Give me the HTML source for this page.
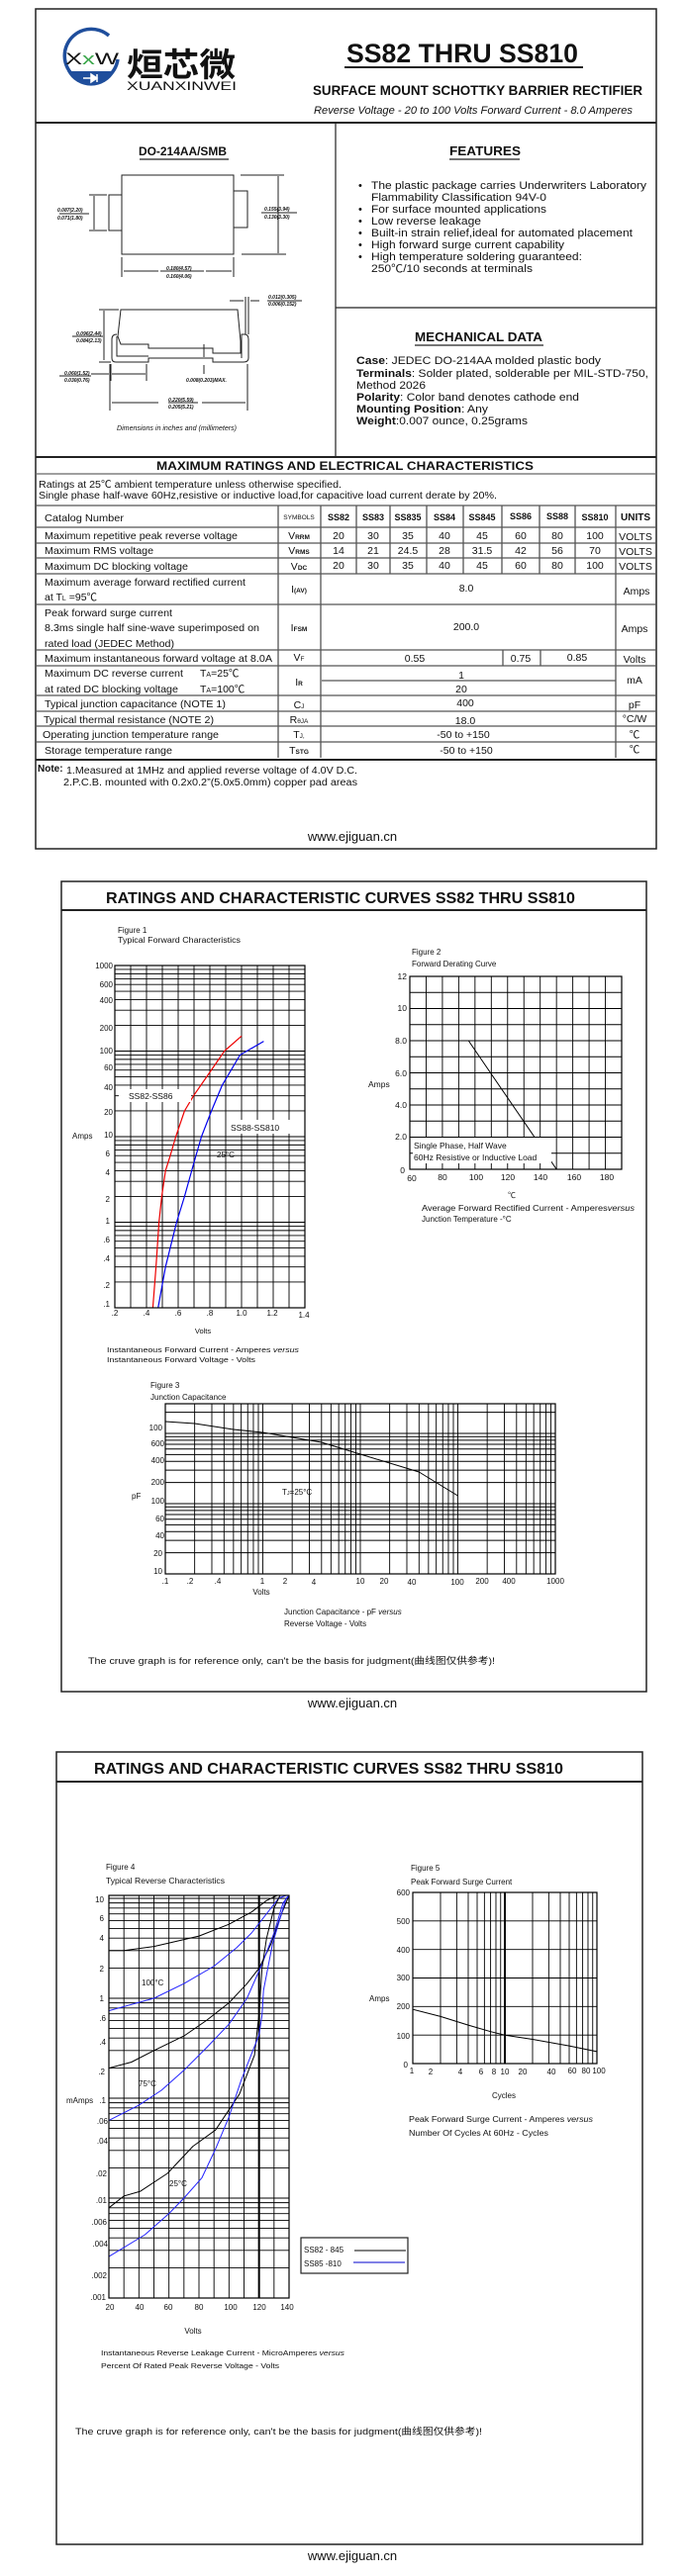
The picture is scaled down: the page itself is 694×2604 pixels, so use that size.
<!DOCTYPE html>
<html><head><meta charset="utf-8">
<style>
html,body{margin:0;padding:0;background:#fff;}
svg{display:block;}
text{font-family:"Liberation Sans","Noto Sans CJK SC",sans-serif;fill:#111;}
.b{font-weight:bold;}
.i{font-style:italic;}
</style></head><body>
<svg id="s" xmlns="http://www.w3.org/2000/svg" width="694" height="2604" viewBox="0 0 694 2604">
<rect width="694" height="2604" fill="#fff"/>
<g id="grids" stroke="#000" stroke-width="0.9"></g>
<g id="curves" fill="none"></g>

<!-- ================= PAGE 1 ================= -->
<g fill="none" stroke="#222">
<rect x="36" y="9" width="627" height="849" stroke-width="1.5"/>
<line x1="36" y1="124" x2="663" y2="124" stroke-width="2"/>
<line x1="339" y1="124" x2="339" y2="462" stroke-width="1.2"/>
<line x1="339" y1="311" x2="663" y2="311" stroke-width="1.2"/>
<line x1="36" y1="462" x2="663" y2="462" stroke-width="2"/>
<line x1="36" y1="479" x2="663" y2="479" stroke="#666" stroke-width="1.2"/>
<line x1="36" y1="768" x2="663" y2="768" stroke-width="2"/>
<line x1="348" y1="68" x2="589" y2="68" stroke-width="2"/>
<line x1="141" y1="161" x2="231" y2="161" stroke-width="1.2"/>
<line x1="454" y1="161" x2="525" y2="161" stroke-width="1.2"/>
<line x1="419" y1="349" x2="549" y2="349" stroke-width="1.2"/>
</g>
<!-- table grid -->
<g stroke="#555" stroke-width="1.3">
<line x1="36" y1="511" x2="663" y2="511"/><line x1="36" y1="533" x2="663" y2="533"/>
<line x1="36" y1="549" x2="663" y2="549"/><line x1="36" y1="564" x2="663" y2="564"/>
<line x1="36" y1="580" x2="663" y2="580"/><line x1="36" y1="611" x2="663" y2="611"/>
<line x1="36" y1="657" x2="663" y2="657"/><line x1="36" y1="673" x2="663" y2="673"/>
<line x1="36" y1="703" x2="663" y2="703"/><line x1="36" y1="719" x2="663" y2="719"/>
<line x1="36" y1="734" x2="663" y2="734"/><line x1="36" y1="750" x2="663" y2="750"/>
<line x1="281" y1="511" x2="281" y2="766"/><line x1="324" y1="511" x2="324" y2="766"/>
<line x1="622" y1="511" x2="622" y2="766"/>
<line x1="360" y1="511" x2="360" y2="580"/><line x1="394" y1="511" x2="394" y2="580"/>
<line x1="431" y1="511" x2="431" y2="580"/><line x1="468" y1="511" x2="468" y2="580"/>
<line x1="507" y1="511" x2="507" y2="580"/><line x1="545" y1="511" x2="545" y2="580"/>
<line x1="581" y1="511" x2="581" y2="580"/>
<line x1="508" y1="657" x2="508" y2="673"/><line x1="546" y1="657" x2="546" y2="673"/>
<line x1="325" y1="688" x2="622" y2="688"/>
</g>

<!-- logo -->
<g>
<path d="M110,36 A27,27 0 1 0 119,60" fill="none" stroke="#1f4e9c" stroke-width="3.5"/>
<path d="M68,72 L116,72 A27,27 0 0 1 68,72 Z" fill="#1f4e9c"/>
<path d="M84,79 L98,79 M92,75 L92,83 L98,79 Z M98,75 L98,83" stroke="#fff" stroke-width="1.5" fill="#fff"/>
<text x="66" y="65" font-size="17" fill="#1f4e9c" textLength="54" lengthAdjust="spacingAndGlyphs">X<tspan fill="#3aa64a">x</tspan>W</text>
<text x="128" y="77" font-size="33" class="b" textLength="110" lengthAdjust="spacingAndGlyphs">烜芯微</text>
<text x="128" y="91" font-size="12" textLength="111" lengthAdjust="spacingAndGlyphs">XUANXINWEI</text>
</g>
<text x="350" y="63" font-size="27" class="b" textLength="234" lengthAdjust="spacingAndGlyphs">SS82 THRU SS810</text>
<text x="316" y="96" font-size="14" class="b" textLength="333" lengthAdjust="spacingAndGlyphs">SURFACE MOUNT SCHOTTKY BARRIER RECTIFIER</text>
<text x="317" y="115" font-size="11" class="i" textLength="322" lengthAdjust="spacingAndGlyphs">Reverse Voltage - 20 to 100 Volts    Forward Current -  8.0 Amperes</text>

<text x="140" y="157" font-size="12" class="b" textLength="89" lengthAdjust="spacingAndGlyphs">DO-214AA/SMB</text>
<text x="454" y="157" font-size="12.5" class="b" textLength="72" lengthAdjust="spacingAndGlyphs">FEATURES</text>
<text x="419" y="345" font-size="12.5" class="b" textLength="129" lengthAdjust="spacingAndGlyphs">MECHANICAL DATA</text>

<!-- package drawing -->
<g fill="none" stroke="#222" stroke-width="1">
<rect x="123" y="177" width="113" height="80"/>
<rect x="110" y="197" width="13" height="36"/>
<rect x="236" y="193" width="14" height="37"/>
<line x1="90" y1="197" x2="108" y2="197"/><line x1="90" y1="233" x2="108" y2="233"/>
<line x1="95" y1="198" x2="95" y2="232"/>
<line x1="243" y1="177" x2="287" y2="177"/><line x1="244" y1="257" x2="289" y2="257"/>
<line x1="281" y1="178" x2="281" y2="256"/>
<line x1="123" y1="260" x2="123" y2="280"/><line x1="236" y1="260" x2="236" y2="280"/>
<line x1="125" y1="274" x2="160" y2="274"/><line x1="208" y1="274" x2="234" y2="274"/>
<path d="M122,313 L240,313 L243,345 L243,357 L215,357 L215,352 L150,352 L150,348 L122,348 L119,340 Z"/>
<path d="M118,338 Q113,338 113,343 L113,362 Q113,366 117,366 L150,366 L150,362 L215,362 L215,366 L246,366 Q251,366 251,362 L251,343 Q251,338 247,338 L244,338 L244,362"/>
<path d="M118,340 L118,360 L150,360"/>
<line x1="248" y1="300" x2="248" y2="338"/><line x1="251" y1="300" x2="251" y2="338"/>
<line x1="232" y1="304" x2="246" y2="304"/><line x1="253" y1="304" x2="262" y2="304"/>
<line x1="100" y1="313" x2="120" y2="313"/><line x1="105" y1="314" x2="105" y2="364"/>
<line x1="100" y1="366" x2="112" y2="366"/>
<line x1="112" y1="368" x2="112" y2="385"/><line x1="148" y1="368" x2="148" y2="385"/>
<line x1="113" y1="378" x2="147" y2="378"/><line x1="92" y1="378" x2="110" y2="378"/>
<line x1="206" y1="348" x2="206" y2="361"/><line x1="206" y1="369" x2="206" y2="378"/>
<line x1="111" y1="368" x2="111" y2="415"/><line x1="250" y1="368" x2="250" y2="415"/>
<line x1="113" y1="407" x2="160" y2="407"/><line x1="204" y1="407" x2="248" y2="407"/>
<line x1="60" y1="216" x2="90" y2="216"/><line x1="264" y1="215" x2="300" y2="215"/>
<line x1="162" y1="274" x2="206" y2="274"/>
<line x1="73" y1="340" x2="104" y2="340"/><line x1="60" y1="380" x2="92" y2="380"/>
<line x1="170" y1="407" x2="200" y2="407"/><line x1="270" y1="304" x2="305" y2="304"/>
</g>
<g font-size="5" class="i b">
<text x="58" y="214">0.087(2.20)</text><text x="58" y="222">0.071(1.80)</text>
<text x="267" y="213">0.155(3.94)</text><text x="267" y="221">0.130(3.30)</text>
<text x="168" y="273">0.180(4.57)</text><text x="168" y="281">0.160(4.06)</text>
<text x="77" y="339">0.096(2.44)</text><text x="77" y="346">0.084(2.13)</text>
<text x="65" y="379">0.060(1.52)</text><text x="65" y="386">0.030(0.76)</text>
<text x="188" y="386">0.008(0.203)MAX.</text>
<text x="170" y="406">0.220(5.59)</text><text x="170" y="413">0.205(5.21)</text>
<text x="271" y="302">0.012(0.305)</text><text x="271" y="309">0.006(0.152)</text>
</g>
<text x="118" y="435" font-size="7" class="i" textLength="121" lengthAdjust="spacingAndGlyphs">Dimensions in inches and (millimeters)</text>

<!-- features -->
<g font-size="11">
<text x="362" y="191">•</text><text x="375" y="191" textLength="278" lengthAdjust="spacingAndGlyphs">The plastic package carries Underwriters Laboratory</text>
<text x="375" y="203" textLength="177" lengthAdjust="spacingAndGlyphs">Flammability Classification 94V-0</text>
<text x="362" y="215">•</text><text x="375" y="215" textLength="177" lengthAdjust="spacingAndGlyphs">For surface mounted applications</text>
<text x="362" y="227">•</text><text x="375" y="227" textLength="111" lengthAdjust="spacingAndGlyphs">Low reverse leakage</text>
<text x="362" y="239">•</text><text x="375" y="239" textLength="264" lengthAdjust="spacingAndGlyphs">Built-in strain relief,ideal for automated placement</text>
<text x="362" y="251">•</text><text x="375" y="251" textLength="195" lengthAdjust="spacingAndGlyphs">High forward surge current capability</text>
<text x="362" y="263">•</text><text x="375" y="263" textLength="213" lengthAdjust="spacingAndGlyphs">High temperature soldering guaranteed:</text>
<text x="375" y="275" textLength="163" lengthAdjust="spacingAndGlyphs">250℃/10 seconds at terminals</text>
</g>
<g font-size="11">
<text x="360" y="368" textLength="247" lengthAdjust="spacingAndGlyphs"><tspan class="b">Case</tspan>: JEDEC DO-214AA molded plastic body</text>
<text x="360" y="381" textLength="295" lengthAdjust="spacingAndGlyphs"><tspan class="b">Terminals</tspan>: Solder plated, solderable per MIL-STD-750,</text>
<text x="360" y="393" textLength="70" lengthAdjust="spacingAndGlyphs">Method 2026</text>
<text x="360" y="405" textLength="225" lengthAdjust="spacingAndGlyphs"><tspan class="b">Polarity</tspan>: Color band denotes cathode end</text>
<text x="360" y="417" textLength="133" lengthAdjust="spacingAndGlyphs"><tspan class="b">Mounting Position</tspan>: Any</text>
<text x="360" y="429" textLength="173" lengthAdjust="spacingAndGlyphs"><tspan class="b">Weight</tspan>:0.007 ounce, 0.25grams</text>
</g>

<!-- ratings table text -->
<text x="158" y="475" font-size="12" class="b" textLength="381" lengthAdjust="spacingAndGlyphs">MAXIMUM RATINGS AND ELECTRICAL CHARACTERISTICS</text>
<text x="39" y="493" font-size="10" textLength="306" lengthAdjust="spacingAndGlyphs">Ratings at 25℃ ambient temperature unless otherwise specified.</text>
<text x="39" y="504" font-size="10" textLength="463" lengthAdjust="spacingAndGlyphs">Single phase half-wave 60Hz,resistive or inductive load,for capacitive load current derate by 20%.</text>
<g font-size="10.5">
<text x="45" y="527" textLength="80" lengthAdjust="spacingAndGlyphs">Catalog Number</text>
<text x="45" y="545" textLength="195" lengthAdjust="spacingAndGlyphs">Maximum repetitive peak reverse voltage</text>
<text x="45" y="560" textLength="110" lengthAdjust="spacingAndGlyphs">Maximum RMS voltage</text>
<text x="45" y="576" textLength="145" lengthAdjust="spacingAndGlyphs">Maximum DC blocking voltage</text>
<text x="45" y="592" textLength="203" lengthAdjust="spacingAndGlyphs">Maximum average forward rectified current</text>
<text x="45" y="607">at T<tspan font-size="7">L</tspan> =95℃</text>
<text x="45" y="623" textLength="129" lengthAdjust="spacingAndGlyphs">Peak forward surge current</text>
<text x="45" y="638" textLength="217" lengthAdjust="spacingAndGlyphs">8.3ms single half sine-wave superimposed on</text>
<text x="45" y="654" textLength="131" lengthAdjust="spacingAndGlyphs">rated load (JEDEC Method)</text>
<text x="45" y="669" textLength="230" lengthAdjust="spacingAndGlyphs">Maximum instantaneous forward voltage at 8.0A</text>
<text x="45" y="684" textLength="140" lengthAdjust="spacingAndGlyphs">Maximum DC reverse current</text>
<text x="202" y="684">T<tspan font-size="7">A</tspan>=25℃</text>
<text x="45" y="700" textLength="135" lengthAdjust="spacingAndGlyphs">at rated DC blocking voltage</text>
<text x="202" y="700">T<tspan font-size="7">A</tspan>=100℃</text>
<text x="45" y="715" textLength="183" lengthAdjust="spacingAndGlyphs">Typical junction capacitance (NOTE 1)</text>
<text x="44" y="731" textLength="172" lengthAdjust="spacingAndGlyphs">Typical thermal resistance (NOTE 2)</text>
<text x="43" y="746" textLength="178" lengthAdjust="spacingAndGlyphs">Operating junction temperature range</text>
<text x="45" y="762" textLength="129" lengthAdjust="spacingAndGlyphs">Storage temperature range</text>
</g>
<g font-size="10.5" text-anchor="middle">
<text x="302" y="525" font-size="6.5">SYMBOLS</text>
<g class="b" font-size="9"><text x="342" y="526">SS82</text><text x="377" y="526">SS83</text><text x="412" y="526">SS835</text><text x="449" y="526">SS84</text><text x="487" y="526">SS845</text><text x="526" y="525">SS86</text><text x="563" y="525">SS88</text><text x="601" y="526">SS810</text><text x="642" y="526" font-size="10">UNITS</text></g>
<text x="302" y="545">V<tspan font-size="6.5" class="b">RRM</tspan></text>
<text x="342" y="545">20</text><text x="377" y="545">30</text><text x="412" y="545">35</text><text x="449" y="545">40</text><text x="487" y="545">45</text><text x="526" y="545">60</text><text x="563" y="545">80</text><text x="601" y="545">100</text><text x="642" y="546">VOLTS</text>
<text x="302" y="560">V<tspan font-size="6.5" class="b">RMS</tspan></text>
<text x="342" y="560">14</text><text x="377" y="560">21</text><text x="412" y="560">24.5</text><text x="449" y="560">28</text><text x="487" y="560">31.5</text><text x="526" y="560">42</text><text x="563" y="560">56</text><text x="601" y="560">70</text><text x="642" y="561">VOLTS</text>
<text x="302" y="576">V<tspan font-size="6.5" class="b">DC</tspan></text>
<text x="342" y="575">20</text><text x="377" y="575">30</text><text x="412" y="575">35</text><text x="449" y="575">40</text><text x="487" y="575">45</text><text x="526" y="575">60</text><text x="563" y="575">80</text><text x="601" y="575">100</text><text x="642" y="576">VOLTS</text>
<text x="302" y="599">I<tspan font-size="6.5" class="b">(AV)</tspan></text><text x="471" y="598">8.0</text><text x="643" y="601">Amps</text>
<text x="302" y="638">I<tspan font-size="6.5" class="b">FSM</tspan></text><text x="471" y="637">200.0</text><text x="641" y="639">Amps</text>
<text x="302" y="668">V<tspan font-size="6.5">F</tspan></text><text x="419" y="669">0.55</text><text x="526" y="669">0.75</text><text x="583" y="668">0.85</text><text x="641" y="670">Volts</text>
<text x="302" y="693">I<tspan font-size="6.5" class="b">R</tspan></text><text x="466" y="686">1</text><text x="466" y="700">20</text><text x="641" y="691">mA</text>
<text x="302" y="716">C<tspan font-size="6.5">J</tspan></text><text x="470" y="714">400</text><text x="641" y="716">pF</text>
<text x="302" y="731">R<tspan font-size="6.5">θJA</tspan></text><text x="470" y="732">18.0</text><text x="641" y="730">°C/W</text>
<text x="302" y="746">T<tspan font-size="6.5">J,</tspan></text><text x="468" y="746">-50 to +150</text><text x="641" y="746">℃</text>
<text x="302" y="762">T<tspan font-size="6.5" class="b">STG</tspan></text><text x="471" y="762">-50 to +150</text><text x="641" y="761">℃</text>
</g>
<text x="38" y="780" font-size="10" class="b">Note:</text>
<text x="67" y="782" font-size="10" textLength="294" lengthAdjust="spacingAndGlyphs">1.Measured at 1MHz and applied reverse voltage of 4.0V D.C.</text>
<text x="64" y="794" font-size="10" textLength="297" lengthAdjust="spacingAndGlyphs">2.P.C.B. mounted with 0.2x0.2”(5.0x5.0mm) copper pad areas</text>
<text x="356" y="850" font-size="13" text-anchor="middle">www.ejiguan.cn</text>

<!-- ================= PAGE 2 ================= -->
<rect x="62" y="891" width="591" height="819" fill="none" stroke="#222" stroke-width="1.5"/>
<line x1="62" y1="920" x2="653" y2="920" stroke="#222" stroke-width="2"/>
<text x="107" y="913" font-size="16" class="b" textLength="474" lengthAdjust="spacingAndGlyphs">RATINGS AND CHARACTERISTIC CURVES SS82 THRU SS810</text>

<g font-size="8">
<text x="119" y="943">Figure 1</text>
<text x="119" y="953" textLength="124" lengthAdjust="spacingAndGlyphs">Typical Forward Characteristics</text>
</g>
<rect x="116" y="976" width="192" height="346" fill="none" stroke="#000" stroke-width="1.2"/>
<g font-size="8" text-anchor="end">
<text x="114" y="979">1000</text><text x="114" y="998">600</text><text x="114" y="1014">400</text>
<text x="114" y="1042">200</text><text x="114" y="1065">100</text><text x="114" y="1082">60</text>
<text x="114" y="1102">40</text><text x="114" y="1127">20</text><text x="114" y="1150">10</text>
<text x="111" y="1169">6</text><text x="111" y="1188">4</text><text x="111" y="1215">2</text>
<text x="111" y="1237">1</text><text x="111" y="1256">.6</text><text x="111" y="1275">.4</text>
<text x="111" y="1302">.2</text><text x="111" y="1321">.1</text>
</g>
<g font-size="8" text-anchor="middle">
<text x="116" y="1330">.2</text><text x="148" y="1330">.4</text><text x="180" y="1330">.6</text><text x="212" y="1330">.8</text><text x="244" y="1330">1.0</text><text x="275" y="1330">1.2</text><text x="307" y="1332">1.4</text>
</g>
<text x="73" y="1151" font-size="8">Amps</text>
<text x="205" y="1348" font-size="7.5" text-anchor="middle">Volts</text>
<text x="108" y="1367" font-size="7.5" textLength="194" lengthAdjust="spacingAndGlyphs">Instantaneous Forward Current - Amperes <tspan class="i">versus</tspan></text>
<text x="108" y="1377" font-size="7.5" textLength="150" lengthAdjust="spacingAndGlyphs">Instantaneous Forward Voltage - Volts</text>

<g font-size="8">
<text x="416" y="965">Figure 2</text>
<text x="416" y="977">Forward Derating Curve</text>
</g>
<rect x="414" y="987" width="214" height="195" fill="none" stroke="#000" stroke-width="1.2"/>
<g font-size="8.5" text-anchor="end">
<text x="411" y="990">12</text><text x="411" y="1022">10</text><text x="411" y="1055">8.0</text><text x="411" y="1088">6.0</text><text x="411" y="1120">4.0</text><text x="411" y="1152">2.0</text><text x="409" y="1186">0</text>
</g>
<g font-size="8.5" text-anchor="middle">
<text x="416" y="1194">60</text><text x="447" y="1193">80</text><text x="481" y="1193">100</text><text x="513" y="1193">120</text><text x="546" y="1193">140</text><text x="580" y="1193">160</text><text x="613" y="1193">180</text>
</g>
<text x="372" y="1099" font-size="8.5">Amps</text>
<text x="517" y="1211" font-size="8" text-anchor="middle">℃</text>
<text x="426" y="1224" font-size="8" textLength="215" lengthAdjust="spacingAndGlyphs">Average Forward Rectified Current - Amperes<tspan class="i">versus</tspan></text>
<text x="426" y="1235" font-size="8">Junction Temperature -°C</text>

<g font-size="8">
<text x="152" y="1403">Figure 3</text>
<text x="152" y="1415">Junction Capacitance</text>
</g>
<rect x="167" y="1419" width="394" height="172" fill="none" stroke="#000" stroke-width="1.2"/>
<g font-size="8" text-anchor="end">
<text x="164" y="1446">100</text><text x="166" y="1462">600</text><text x="166" y="1479">400</text><text x="166" y="1501">200</text><text x="166" y="1520">100</text><text x="166" y="1538">60</text><text x="166" y="1555">40</text><text x="164" y="1573">20</text><text x="164" y="1591">10</text>
</g>
<g font-size="8" text-anchor="middle">
<text x="167" y="1601">.1</text><text x="192" y="1601">.2</text><text x="220" y="1601">.4</text><text x="265" y="1601">1</text><text x="288" y="1601">2</text><text x="317" y="1602">4</text><text x="364" y="1601">10</text><text x="388" y="1601">20</text><text x="416" y="1602">40</text><text x="462" y="1602">100</text><text x="487" y="1601">200</text><text x="514" y="1601">400</text><text x="561" y="1601">1000</text>
</g>
<text x="133" y="1515" font-size="8">pF</text>
<text x="285" y="1511" font-size="8">T<tspan font-size="5.5">J</tspan>=25°C</text>
<text x="264" y="1612" font-size="8" text-anchor="middle">Volts</text>
<text x="287" y="1632" font-size="8">Junction Capacitance - pF <tspan class="i">versus</tspan></text>
<text x="287" y="1644" font-size="8">Reverse Voltage - Volts</text>
<text x="89" y="1682" font-size="9.5" textLength="411" lengthAdjust="spacingAndGlyphs">The cruve graph is for reference only, can't be the basis for judgment(曲线图仅供参考)!</text>
<text x="356" y="1726" font-size="13" text-anchor="middle">www.ejiguan.cn</text>

<!-- ================= PAGE 3 ================= -->
<rect x="57" y="1771" width="592" height="801" fill="none" stroke="#222" stroke-width="1.5"/>
<line x1="57" y1="1801" x2="649" y2="1801" stroke="#222" stroke-width="2"/>
<text x="95" y="1793" font-size="16" class="b" textLength="474" lengthAdjust="spacingAndGlyphs">RATINGS AND CHARACTERISTIC CURVES SS82 THRU SS810</text>

<g font-size="8">
<text x="107" y="1890">Figure 4</text>
<text x="107" y="1904" textLength="120" lengthAdjust="spacingAndGlyphs">Typical Reverse Characteristics</text>
</g>
<rect x="110" y="1916" width="182" height="407" fill="none" stroke="#000" stroke-width="1.2"/>
<g font-size="8" text-anchor="end">
<text x="105" y="1923">10</text><text x="105" y="1942">6</text><text x="105" y="1962">4</text><text x="105" y="1993">2</text><text x="105" y="2023">1</text><text x="107" y="2043">.6</text><text x="107" y="2067">.4</text><text x="106" y="2097">.2</text><text x="107" y="2126">.1</text><text x="109" y="2147">.06</text><text x="109" y="2167">.04</text><text x="108" y="2200">.02</text><text x="108" y="2227">.01</text><text x="108" y="2249">.006</text><text x="109" y="2271">.004</text><text x="108" y="2303">.002</text><text x="107" y="2325">.001</text>
</g>
<g font-size="8" text-anchor="middle">
<text x="111" y="2335">20</text><text x="141" y="2335">40</text><text x="170" y="2335">60</text><text x="201" y="2335">80</text><text x="233" y="2335">100</text><text x="262" y="2335">120</text><text x="290" y="2335">140</text>
</g>
<text x="67" y="2126" font-size="8">mAmps</text>
<text x="143" y="2007" font-size="8">100°C</text>
<text x="140" y="2109" font-size="8">75°C</text>
<text x="171" y="2210" font-size="8">25°C</text>
<text x="195" y="2359" font-size="8" text-anchor="middle">Volts</text>
<text x="102" y="2381" font-size="7.5" textLength="246" lengthAdjust="spacingAndGlyphs">Instantaneous Reverse Leakage Current  - MicroAmperes <tspan class="i">versus</tspan></text>
<text x="102" y="2394" font-size="7.5" textLength="180" lengthAdjust="spacingAndGlyphs">Percent Of Rated Peak Reverse Voltage - Volts</text>
<rect x="304" y="2262" width="108" height="36" fill="#fff" stroke="#222" stroke-width="1.2"/>
<text x="307" y="2277" font-size="8">SS82 - 845</text>
<line x1="358" y1="2275" x2="410" y2="2275" stroke="#000" stroke-width="1"/>
<text x="307" y="2291" font-size="8">SS85  -810</text>
<line x1="357" y1="2287" x2="409" y2="2287" stroke="#00c" stroke-width="1"/>

<g font-size="8">
<text x="415" y="1891">Figure 5</text>
<text x="415" y="1905">Peak Forward Surge Current</text>
</g>
<rect x="417" y="1913" width="186" height="173" fill="none" stroke="#000" stroke-width="1.2"/>
<g font-size="8" text-anchor="end">
<text x="414" y="1916">600</text><text x="414" y="1945">500</text><text x="414" y="1974">400</text><text x="414" y="2002">300</text><text x="414" y="2031">200</text><text x="414" y="2061">100</text><text x="412" y="2090">0</text>
</g>
<g font-size="8" text-anchor="middle">
<text x="416" y="2096">1</text><text x="435" y="2097">2</text><text x="465" y="2097">4</text><text x="486" y="2097">6</text><text x="499" y="2097">8</text><text x="510" y="2097">10</text><text x="528" y="2097">20</text><text x="557" y="2097">40</text><text x="578" y="2096">60</text><text x="592" y="2096">80</text><text x="605" y="2096">100</text>
</g>
<text x="373" y="2023" font-size="8">Amps</text>
<text x="509" y="2121" font-size="8" text-anchor="middle">Cycles</text>
<text x="413" y="2145" font-size="8" textLength="186" lengthAdjust="spacingAndGlyphs">Peak Forward Surge Current - Amperes <tspan class="i">versus</tspan></text>
<text x="413" y="2159" font-size="8" textLength="141" lengthAdjust="spacingAndGlyphs">Number Of Cycles At 60Hz - Cycles</text>
<text x="76" y="2461" font-size="9.5" textLength="411" lengthAdjust="spacingAndGlyphs">The cruve graph is for reference only, can't be the basis for judgment(曲线图仅供参考)!</text>
<text x="356" y="2588" font-size="13" text-anchor="middle">www.ejiguan.cn</text>

<g id="labels"></g>
</svg>
<script>
(function(){
var NS='http://www.w3.org/2000/svg';
var G=document.getElementById('grids'),C=document.getElementById('curves'),LB=document.getElementById('labels');
function ln(x1,y1,x2,y2,w){var e=document.createElementNS(NS,'line');e.setAttribute('x1',x1);e.setAttribute('y1',y1);e.setAttribute('x2',x2);e.setAttribute('y2',y2);if(w)e.setAttribute('stroke-width',w);G.appendChild(e);}
function pl(pts,col,w){var e=document.createElementNS(NS,'polyline');e.setAttribute('points',pts.map(function(p){return p[0].toFixed(1)+','+p[1].toFixed(1)}).join(' '));e.setAttribute('stroke',col);e.setAttribute('stroke-width',w||1);e.setAttribute('stroke-linejoin','round');C.appendChild(e);}
var lg=Math.log10;
// Fig1
var f1x=function(v){return 116+(v-0.2)/1.2*192},f1y=function(i){return 1322-(lg(i)+1)*86.5};
for(var v=0.2;v<=1.41;v+=0.1)ln(f1x(v),976,f1x(v),1322);
for(var d=-1;d<=2;d++)for(var k=1;k<=9;k++){var y=f1y(k*Math.pow(10,d));ln(116,y,308,y);}
ln(116,976,308,976);
pl([[0.44,0.1],[0.46,0.3],[0.479,1],[0.496,2],[0.52,4],[0.55,6],[0.585,10],[0.64,20],[0.697,30],[0.78,50],[0.892,100],[1.0,150]].map(function(p){return[f1x(p[0]),f1y(p[1])]}),'#e00',1.2);
pl([[0.473,0.1],[0.52,0.3],[0.59,1],[0.64,2],[0.7,5],[0.747,10],[0.81,20],[0.878,40],[0.99,90],[1.14,130]].map(function(p){return[f1x(p[0]),f1y(p[1])]}),'#00e',1.2);
// Fig2
for(var t=60;t<=190;t+=10){var x=414+(t-60)/130*214;ln(x,987,x,1182);}
for(var a=0;a<=12;a++){var y=1182-a/12*195;ln(414,y,628,y);}
pl([[414,1182-8/12*195],[414+36/130*214,1182-8/12*195],[414+90/130*214,1182]],'#000',1);
// Fig3
var f3x=function(v){return 167+(lg(v)+1)*98.5},f3y=function(v){return 1591-(lg(v)-1)*71};
for(var d=-1;d<=2;d++)for(var k=1;k<=9;k++){var x=f3x(k*Math.pow(10,d));ln(x,1419,x,1591);}
for(var d=1;d<=3;d++)for(var k=1;k<=9;k++){var y=f3y(k*Math.pow(10,d));if(y>=1419)ln(167,y,561,y);}
pl([[0.1,1437],[0.2,1439],[0.5,1445],[1,1448],[4,1458],[10,1470],[40,1488],[100,1512]].map(function(p){return[f3x(p[0]),p[1]]}),'#000',1);
// Fig4
var f4x=function(v){return 110+(v-20)/120*182},f4y=function(v){return 2020-lg(v)*101};
for(var v=20;v<=140;v+=10){var x=f4x(v);ln(x,1916,x,2323,v==120?2:0);}
for(var d=-3;d<=1;d++)for(var k=1;k<=9;k++){var y=f4y(k*Math.pow(10,d));if(y>=1916)ln(110,y,292,y);}
function c4(p,col){pl(p.map(function(q){return[f4x(q[0]),Math.max(1916,f4y(q[1]))]}),col,1);}
c4([[20,3.0],[30,3.0],[50,3.3],[80,4.2],[100,5.5],[115,7.3],[125,9.5],[132,11.5]],'#000');
c4([[20,0.75],[50,1.0],[70,1.4],[90,2.1],[105,3.2],[115,4.5],[125,7],[133,10],[138,12]],'#22f');
c4([[20,0.2],[35,0.23],[50,0.3],[70,0.42],[85,0.6],[100,0.9],[112,1.4],[120,2],[128,3.5],[135,7],[140,12]],'#000');
c4([[20,0.06],[40,0.085],[55,0.12],[70,0.19],[85,0.32],[100,0.55],[112,1.0],[122,2.2],[130,4.5],[136,9],[140,13]],'#22f');
c4([[20,0.008],[30,0.0105],[41,0.0117],[59,0.0177],[76,0.033],[91,0.048],[107,0.11],[117,0.27],[120,0.7],[122,2],[125,4],[130,8],[134,12]],'#000');
c4([[20,0.0026],[44,0.0043],[60,0.007],[70,0.01],[82,0.016],[91,0.031],[100,0.065],[108,0.15],[120,0.43],[122,0.68],[123,1.2],[129,3.5],[138,10],[140,13]],'#22f');
// Fig5
var f5x=function(n){return 417+lg(n)*93},f5y=function(a){return 2086-a/600*173};
for(var d=0;d<=1;d++)for(var k=1;k<=9;k++){var x=f5x(k*Math.pow(10,d));ln(x,1913,x,2086,(k==1&&d==1)?2:0);}
ln(f5x(100),1913,f5x(100),2086);
for(var a=0;a<=600;a+=100){var y=f5y(a);ln(417,y,603,y);}
pl([[1,190],[2,165],[4,135],[7,112],[10,100],[20,85],[50,62],[100,42]].map(function(p){return[f5x(p[0]),f5y(p[1])]}),'#000',1);
// label boxes over fig1 grid
function box(x,y,w,h,txt,tx,ty){var r=document.createElementNS(NS,'rect');r.setAttribute('x',x);r.setAttribute('y',y);r.setAttribute('width',w);r.setAttribute('height',h);r.setAttribute('fill','#fff');LB.appendChild(r);}
box(120,1101,73,13);box(229,1132,64,14);box(417,1150,140,26);
})();
</script>
<svg style="position:absolute;left:0;top:0" width="694" height="2604" xmlns="http://www.w3.org/2000/svg">
<g font-family="Liberation Sans, sans-serif" font-size="8.5" fill="#111">
<text x="130" y="1111">SS82-SS86</text>
<text x="233" y="1143">SS88-SS810</text>
<text x="219" y="1170" font-size="8">25°C</text>
<text x="418" y="1161" font-size="8.5">Single Phase, Half Wave</text>
<text x="418" y="1173" font-size="8.5">60Hz Resistive or Inductive Load</text>
</g>
</svg>
</body></html>
